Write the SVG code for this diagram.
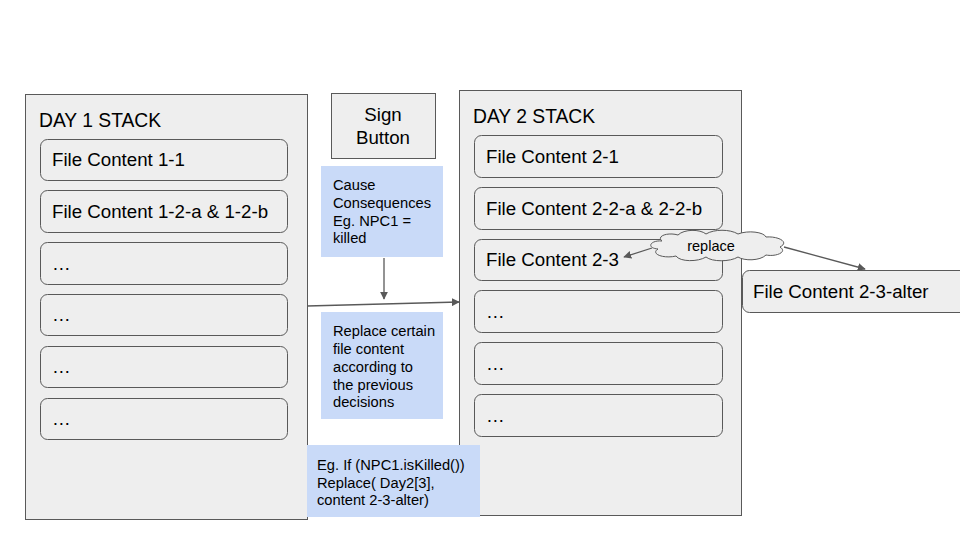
<svg xmlns="http://www.w3.org/2000/svg" width="960" height="540" viewBox="0 0 960 540">
<defs>
<style>
.stack{fill:#eeeeee;stroke:#595959;stroke-width:1}
.item{fill:#eeeeee;stroke:#595959;stroke-width:1}
.t{font-family:"Liberation Sans",Arial,sans-serif;font-size:18.7px;fill:#000}
.h{font-family:"Liberation Sans",Arial,sans-serif;font-size:19.3px;fill:#000}
.s{font-family:"Liberation Sans",Arial,sans-serif;font-size:14.7px;fill:#000}
.note{fill:#c9daf8;stroke:none}
.conn{stroke:#595959;stroke-width:1.3;fill:none}
</style>
<marker id="ah" viewBox="0 0 10 10" refX="9" refY="5" markerWidth="8" markerHeight="8" orient="auto" markerUnits="userSpaceOnUse">
<path d="M0,0 L10,5 L0,10 z" fill="#595959"/>
</marker>
</defs>
<rect width="960" height="540" fill="#fff"/>
<g id="day1">
<rect class="stack" x="25.5" y="94.5" width="282" height="425"/>
<text class="h" x="39" y="127">DAY 1 STACK</text>
<rect class="item" x="40.5" y="139.5" width="247" height="41" rx="7"/>
<text class="t" x="52" y="166">File Content 1-1</text>
<rect class="item" x="40.5" y="190.5" width="247" height="42" rx="7"/>
<text class="t" x="52" y="218">File Content 1-2-a &amp; 1-2-b</text>
<rect class="item" x="40.5" y="242.5" width="247" height="42" rx="7"/>
<text class="t" x="52" y="270">…</text>
<rect class="item" x="40.5" y="294.5" width="247" height="41" rx="7"/>
<text class="t" x="52" y="321">…</text>
<rect class="item" x="40.5" y="346.5" width="247" height="41" rx="7"/>
<text class="t" x="52" y="373">…</text>
<rect class="item" x="40.5" y="398.5" width="247" height="41" rx="7"/>
<text class="t" x="52" y="425">…</text>
</g>
<g id="day2">
<rect class="stack" x="459.5" y="90.5" width="282" height="425"/>
<text class="h" x="473" y="123">DAY 2 STACK</text>
<rect class="item" x="474.5" y="135.5" width="248" height="42" rx="7"/>
<text class="t" x="486" y="163">File Content 2-1</text>
<rect class="item" x="474.5" y="187.5" width="248" height="42" rx="7"/>
<text class="t" x="486" y="215">File Content 2-2-a &amp; 2-2-b</text>
<rect class="item" x="474.5" y="239.5" width="248" height="41" rx="7"/>
<text class="t" x="486" y="266">File Content 2-3</text>
<rect class="item" x="474.5" y="290.5" width="248" height="42" rx="7"/>
<text class="t" x="486" y="318">…</text>
<rect class="item" x="474.5" y="342.5" width="248" height="42" rx="7"/>
<text class="t" x="486" y="370">…</text>
<rect class="item" x="474.5" y="394.5" width="248" height="42" rx="7"/>
<text class="t" x="486" y="422">…</text>
</g>
<g id="sign">
<rect class="stack" x="331.5" y="93.5" width="104" height="65"/>
<text class="t" x="383" y="121" text-anchor="middle">Sign</text>
<text class="t" x="383" y="144" text-anchor="middle">Button</text>
</g>
<g id="cause">
<rect class="note" x="321" y="166" width="122" height="91"/>
<text class="s" x="333" y="190">Cause</text>
<text class="s" x="333" y="208">Consequences</text>
<text class="s" x="333" y="226">Eg. NPC1 =</text>
<text class="s" x="333" y="243">killed</text>
</g>
<g id="replacenote">
<rect class="note" x="321" y="312" width="122" height="107"/>
<text class="s" x="333" y="336">Replace certain</text>
<text class="s" x="333" y="354">file content</text>
<text class="s" x="333" y="372">according to</text>
<text class="s" x="333" y="390">the previous</text>
<text class="s" x="333" y="407">decisions</text>
</g>
<g id="egnote">
<rect class="note" x="307" y="445" width="173" height="72"/>
<text class="s" x="317" y="470">Eg. If (NPC1.isKilled())</text>
<text class="s" x="317" y="488">Replace( Day2[3],</text>
<text class="s" x="317" y="505">content 2-3-alter)</text>
</g>
<g id="alter">
<rect class="item" x="742.5" y="270.5" width="230" height="42" rx="7"/>
<text class="t" x="753" y="298">File Content 2-3-alter</text>
</g>
<g id="connectors">
<line class="conn" x1="384" y1="258" x2="384" y2="299" marker-end="url(#ah)"/>
<line class="conn" x1="307" y1="306" x2="459" y2="302" marker-end="url(#ah)"/>
<line class="conn" x1="652" y1="248" x2="624" y2="257" marker-end="url(#ah)"/>
<line class="conn" x1="784" y1="247" x2="865" y2="269" marker-end="url(#ah)"/>
</g>
<g id="cloud">
<path d="M662,241 C656,236 668,232 678,235 C684,229 700,229 706,234 C714,229 730,229 738,234 C748,230 764,232 766,237 C778,236 790,242 780,247 C788,252 776,257 766,255 C760,261 744,261 738,257 C730,262 712,262 706,257 C698,262 680,262 676,256 C664,259 650,254 658,249 C646,248 650,240 662,241 Z" fill="#eeeeee" stroke="#595959" stroke-width="1"/>
<text x="711" y="251" text-anchor="middle" font-family="Liberation Sans, Arial, sans-serif" font-size="14.5">replace</text>
</g>
</svg>
